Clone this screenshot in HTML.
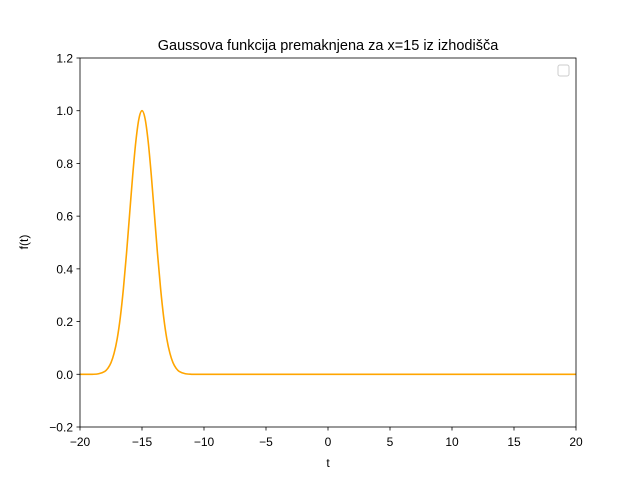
<!DOCTYPE html>
<html><head><meta charset="utf-8"><style>
body{margin:0;background:#fff}
svg text{font-family:"Liberation Sans","DejaVu Sans",sans-serif;fill:#000}
</style></head><body>
<svg width="640" height="480" xmlns="http://www.w3.org/2000/svg">
<rect width="640" height="480" fill="#fff"/>
<text x="328" y="50" font-size="14.5" text-anchor="middle">Gaussova funkcija premaknjena za x=15 iz izhodišča</text>
<g id="ticks"></g>
<path id="curve" fill="none" stroke="#ffa500" stroke-width="1.6"/>
<rect x="80" y="58" width="496" height="369" fill="none" stroke="#000" stroke-width="0.8"/>
<rect x="558" y="65" width="11" height="11" rx="2" fill="#fff" stroke="#ccc"/>
<text x="328" y="467" font-size="12" text-anchor="middle">t</text>
<text transform="translate(28,242) rotate(-90)" font-size="12" text-anchor="middle">f(t)</text>
</svg>
<script>
const xTicks=[-20,-15,-10,-5,0,5,10,15,20];
const yTicks=[-0.2,0.0,0.2,0.4,0.6,0.8,1.0,1.2];
const tVals=[-20,-19,-18.5,-18,-17.75,-17.5,-17.25,-17,-16.75,-16.5,-16.25,-16,-15.75,-15.5,-15.25,-15,-14.75,-14.5,-14.25,-14,-13.75,-13.5,-13.25,-13,-12.75,-12.5,-12.25,-12,-11.5,-11,20];
const fVals=[0,0,0.002,0.011,0.023,0.044,0.080,0.135,0.216,0.325,0.458,0.607,0.755,0.882,0.969,1,0.969,0.882,0.755,0.607,0.458,0.325,0.216,0.135,0.080,0.044,0.023,0.011,0.002,0,0];
const X=v=>80+(v+20)/40*496, Y=v=>427-(v+0.2)/1.4*369;
const ns="http://www.w3.org/2000/svg", g=document.getElementById('ticks');
function mk(tag,at){const e=document.createElementNS(ns,tag);for(const k in at)e.setAttribute(k,at[k]);g.appendChild(e);return e;}
xTicks.forEach(v=>{
 const l=mk('line',{x1:X(v),x2:X(v),y1:427,y2:430.5,stroke:'#000','stroke-width':0.8});
 
 
 const t=mk('text',{x:X(v),y:446,'font-size':12,'text-anchor':'middle'});
 t.textContent=v<0?'\u2212'+(-v):String(v);
 
 
});
yTicks.forEach(v=>{
 const l=mk('line',{x1:76.5,x2:80,y1:Y(v),y2:Y(v),stroke:'#000','stroke-width':0.8});
 
 
 const t=mk('text',{x:73,y:Y(v)+4.5,'font-size':12,'text-anchor':'end'});
 t.textContent=(v<0?'\u2212':'')+Math.abs(v).toFixed(1);
 
 
});
const P=tVals.map((t,i)=>[X(t),Y(fVals[i])]);
let d='M'+P[0][0]+','+P[0][1];
for(let i=0;i<P.length-1;i++){
 const p1=P[i],p2=P[i+1];
 if((p2[0]-p1[0])>40){d+=' L'+p2[0]+','+p2[1];continue;}
 let p0=P[Math.max(0,i-1)],p3=P[Math.min(P.length-1,i+2)];
 if(p1[0]-p0[0]>40)p0=p1;
 if(p3[0]-p2[0]>40)p3=p2;
 d+=` C${p1[0]+(p2[0]-p0[0])/6},${p1[1]+(p2[1]-p0[1])/6} ${p2[0]-(p3[0]-p1[0])/6},${p2[1]-(p3[1]-p1[1])/6} ${p2[0]},${p2[1]}`;
}
document.getElementById('curve').setAttribute('d',d);
</script>
</body></html>
